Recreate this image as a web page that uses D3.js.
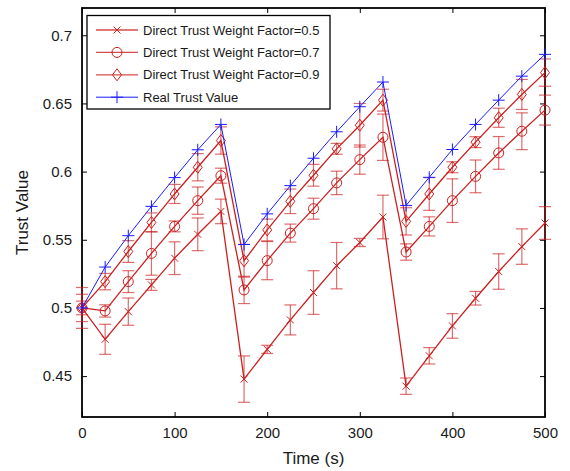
<!DOCTYPE html>
<html>
<head>
<meta charset="utf-8">
<script src="https://cdn.jsdelivr.net/npm/d3@7"></script>
<style>
  html, body { margin: 0; padding: 0; background: #fff; }
  svg { display: block; font-family: "Liberation Sans", Arial, sans-serif; }
</style>
</head>
<body>
<svg id="chart" width="570" height="471"></svg>
<script>
// Simulation time steps (s)
const time = [0, 25, 50, 75, 100, 125, 150, 175, 200, 225, 250, 275, 300, 325, 350, 375, 400, 425, 450, 475, 500];

// Mean trust values per series
const factor05 = [0.500, 0.477, 0.4973, 0.5169, 0.5365, 0.554, 0.5708, 0.4478, 0.4696, 0.4912, 0.5113, 0.531, 0.548, 0.5667, 0.4426, 0.4649, 0.4868, 0.5071, 0.5267, 0.545, 0.5623];
const factor07 = [0.500, 0.4978, 0.5193, 0.540, 0.5598, 0.5787, 0.597, 0.5132, 0.5347, 0.5549, 0.5728, 0.5917, 0.6088, 0.6252, 0.541, 0.5598, 0.5787, 0.5965, 0.6137, 0.6296, 0.6451];
const factor09 = [0.500, 0.5193, 0.5414, 0.5627, 0.5836, 0.6032, 0.6228, 0.5346, 0.5572, 0.5782, 0.5973, 0.6167, 0.634, 0.6524, 0.5635, 0.5836, 0.6032, 0.6216, 0.6395, 0.6566, 0.6726];
const realTrust = [0.500, 0.530, 0.553, 0.5745, 0.5956, 0.616, 0.6346, 0.5465, 0.569, 0.5897, 0.6098, 0.6292, 0.6476, 0.6657, 0.5752, 0.5958, 0.6162, 0.6346, 0.6524, 0.670, 0.686];

// Error half-widths per series
const err05 = [0.015, 0.011, 0.010, 0.004, 0.012, 0.012, 0.009, 0.017, 0.003, 0.011, 0.016, 0.017, 0.003, 0.016, 0.006, 0.006, 0.009, 0.005, 0.013, 0.013, 0.012];
const err07 = [0.010, 0.0045, 0.008, 0.016, 0.004, 0.010, 0.0055, 0.010, 0.014, 0.0066, 0.0077, 0.0086, 0.0107, 0.017, 0.006, 0.007, 0.016, 0.012, 0.012, 0.0135, 0.011];
const err09 = [0.005, 0.006, 0.008, 0.007, 0.007, 0.010, 0.010, 0.012, 0.008, 0.009, 0.008, 0.004, 0.016, 0.008, 0.010, 0.012, 0.004, 0.004, 0.007, 0.011, 0.010];

// Axis ticks
const xTicks = [0, 100, 200, 300, 400, 500];
const yTicks = [0.45, 0.5, 0.55, 0.6, 0.65, 0.7];
const xLabel = "Time (s)";
const yLabel = "Trust Value";

const legendLabels = [
  "Direct Trust Weight Factor=0.5",
  "Direct Trust Weight Factor=0.7",
  "Direct Trust Weight Factor=0.9",
  "Real Trust Value"
];

const RED = "#cc1f1f";
const BLUE = "#1a1aff";

const series = [
  { name: legendLabels[0], values: factor05, err: err05, color: RED, marker: "cross" },
  { name: legendLabels[1], values: factor07, err: err07, color: RED, marker: "circle" },
  { name: legendLabels[2], values: factor09, err: err09, color: RED, marker: "diamond" },
  { name: legendLabels[3], values: realTrust, err: null, color: BLUE, marker: "plus" }
];

const svg = d3.select("#chart");
const W = 570, H = 471;
const margin = { top: 8, right: 25, bottom: 54, left: 82 };
const iw = W - margin.left - margin.right;
const ih = H - margin.top - margin.bottom;

const x = d3.scaleLinear().domain([0, 500]).range([margin.left, margin.left + iw]);
const y = d3.scaleLinear().domain([0.42, 0.72]).range([margin.top + ih, margin.top]);

const fmt = v => String(+v.toFixed(2));

// Axes with inward ticks on all four sides
const gx = svg.append("g").attr("transform", `translate(0,${margin.top + ih})`)
  .call(d3.axisBottom(x).tickValues(xTicks).tickFormat(fmt).tickSizeInner(-5).tickSizeOuter(0).tickPadding(10));
const gxt = svg.append("g").attr("transform", `translate(0,${margin.top})`)
  .call(d3.axisTop(x).tickValues(xTicks).tickFormat("").tickSizeInner(-5).tickSizeOuter(0));
const gy = svg.append("g").attr("transform", `translate(${margin.left},0)`)
  .call(d3.axisLeft(y).tickValues(yTicks).tickFormat(fmt).tickSizeInner(-5).tickSizeOuter(0).tickPadding(10));
const gyr = svg.append("g").attr("transform", `translate(${margin.left + iw},0)`)
  .call(d3.axisRight(y).tickValues(yTicks).tickFormat("").tickSizeInner(-5).tickSizeOuter(0));

[gx, gxt, gy, gyr].forEach(g => {
  g.select(".domain").remove();
  g.selectAll(".tick line").attr("stroke", "#000").attr("stroke-width", 1);
  g.selectAll(".tick text").attr("fill", "#1a1a1a").style("font-size", "15px");
});

// Frame
svg.append("rect")
  .attr("x", margin.left).attr("y", margin.top)
  .attr("width", iw).attr("height", ih)
  .attr("fill", "none").attr("stroke", "#000").attr("stroke-width", 1.8);

// Axis titles
svg.append("text")
  .attr("x", margin.left + iw / 2).attr("y", 464)
  .attr("text-anchor", "middle").style("font-size", "17px").attr("fill", "#1a1a1a")
  .text(xLabel);
svg.append("text")
  .attr("transform", `translate(28,${margin.top + ih / 2}) rotate(-90)`)
  .attr("text-anchor", "middle").style("font-size", "17px").attr("fill", "#1a1a1a")
  .text(yLabel);

function drawMarker(g, type, cx, cy, color) {
  if (type === "cross") {
    const s = 3.5;
    g.append("path").attr("d", `M${cx - s},${cy - s}L${cx + s},${cy + s}M${cx - s},${cy + s}L${cx + s},${cy - s}`)
      .attr("stroke", color).attr("stroke-width", 1).attr("fill", "none");
  } else if (type === "circle") {
    g.append("circle").attr("cx", cx).attr("cy", cy).attr("r", 5)
      .attr("stroke", color).attr("stroke-width", 1).attr("fill", "none");
  } else if (type === "diamond") {
    const s = 6;
    g.append("path").attr("d", `M${cx},${cy - s}L${cx + s * 0.75},${cy}L${cx},${cy + s}L${cx - s * 0.75},${cy}Z`)
      .attr("stroke", color).attr("stroke-width", 1).attr("fill", "none");
  } else if (type === "plus") {
    const s = 6;
    g.append("path").attr("d", `M${cx - s},${cy}L${cx + s},${cy}M${cx},${cy - s}L${cx},${cy + s}`)
      .attr("stroke", color).attr("stroke-width", 1).attr("fill", "none");
  }
}

const line = d3.line().x(d => x(d[0])).y(d => y(d[1]));

series.forEach(s => {
  const g = svg.append("g");
  const pts = time.map((t, i) => [t, s.values[i]]);
  if (s.err) {
    const eb = g.append("g").attr("stroke", s.color).attr("stroke-opacity", 0.65).attr("stroke-width", 1.2);
    pts.forEach((p, i) => {
      const cx = x(p[0]);
      const y1 = y(p[1] - s.err[i]), y2 = y(p[1] + s.err[i]);
      eb.append("line").attr("x1", cx).attr("x2", cx).attr("y1", y1).attr("y2", y2);
      eb.append("line").attr("x1", cx - 6).attr("x2", cx + 6).attr("y1", y1).attr("y2", y1);
      eb.append("line").attr("x1", cx - 6).attr("x2", cx + 6).attr("y1", y2).attr("y2", y2);
    });
  }
  g.append("path").datum(pts).attr("d", line)
    .attr("fill", "none").attr("stroke", s.color).attr("stroke-width", s.color === BLUE ? 1 : 1.3);
  pts.forEach(p => drawMarker(g, s.marker, x(p[0]), y(p[1]), s.color));
});

// Legend
const lg = svg.append("g");
lg.append("rect").attr("x", 87).attr("y", 15.5).attr("width", 243).attr("height", 93.5)
  .attr("fill", "#fff").attr("stroke", "#000").attr("stroke-width", 1.3);
series.forEach((s, i) => {
  const ly = 30 + i * 22.4;
  lg.append("line").attr("x1", 96).attr("x2", 138).attr("y1", ly).attr("y2", ly)
    .attr("stroke", s.color).attr("stroke-width", s.color === BLUE ? 1 : 1.3)
    .attr("stroke-opacity", s.color === BLUE ? 1 : 0.8);
  drawMarker(lg, s.marker, 117, ly, s.color);
  lg.append("text").attr("x", 143).attr("y", ly + 4.6)
    .style("font-size", "13px").attr("fill", "#1a1a1a").text(s.name);
});
</script>
</body>
</html>
